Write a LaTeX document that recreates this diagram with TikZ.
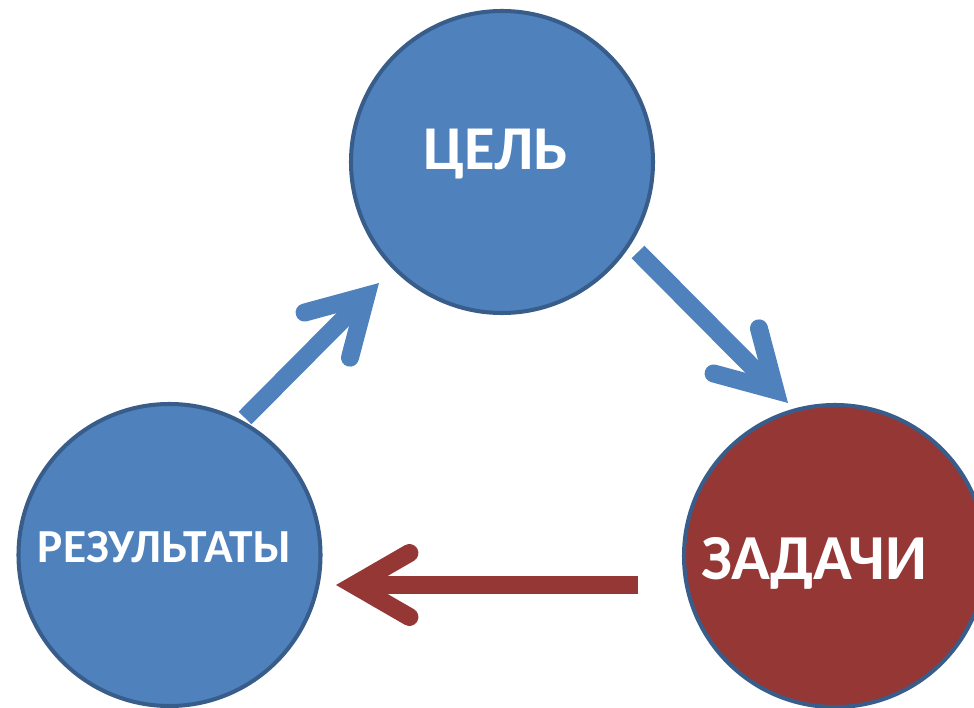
\documentclass[tikz,border=0pt]{standalone}
\usepackage{fontspec}
\setmainfont{Carlito}
\usetikzlibrary{calc}
\definecolor{fillblue}{HTML}{4F81BD}
\definecolor{rimblue}{HTML}{385D8A}
\definecolor{taskred}{HTML}{953735}
\tikzset{
    ring/.style = {circle, draw=rimblue, line width=2.3pt, minimum size=6.04cm, inner sep=0pt},
    word/.style = {text=white, anchor=base, inner sep=0pt},
    flow/.style = {line width=0.36cm},
    barb/.style = {line width=0.36cm, line cap=round, line join=miter}
}
% thick arrow: #1 tail, #2 tip, #3 colour
\newcommand{\bigarrow}[3]{%
  \coordinate (#2-v) at ($(#2)!0.36cm!(#1)$);
  \path[flow] (#1) edge[#3] (#2-v);
  \draw[barb, #3] ($(#2-v)!1.28cm!30:(#1)$) -- (#2-v) -- ($(#2-v)!1.28cm!-30:(#1)$);
}

\begin{document}
\begin{tikzpicture}
  \useasboundingbox (0,0) rectangle (19.48,14.14);
  \clip (0,0) rectangle (19.48,14.14);

  % circles
  \node[ring, fill=fillblue] (goal) at (10.04,10.90) {};
  \node[ring, fill=fillblue] (result) at (3.39,3.04) {};
  \node[ring, fill=taskred] (task) at (16.70,3.02) {};

  \node[word, font=\bfseries\fontsize{35.5pt}{40pt}\selectfont] (goal-txt) at (9.91,10.74) {ЦЕЛЬ};
  \node[word, font=\bfseries\fontsize{27pt}{30pt}\selectfont] (result-txt) at (3.29,2.88) {РЕЗУЛЬТАТЫ};
  \node[word, font=\bfseries\fontsize{36.5pt}{44pt}\selectfont] (task-txt) at (16.28,2.54) {ЗАДАЧИ};

  % arrows
  \coordinate (up-a) at (4.90,5.78);
  \coordinate (up-b) at (7.58,8.48);
  \coordinate (down-a) at (12.76,9.10);
  \coordinate (down-b) at (15.76,6.08);
  \coordinate (back-a) at (12.76,2.44);
  \coordinate (back-b) at (6.72,2.44);

  \bigarrow{up-a}{up-b}{fillblue}
  \bigarrow{down-a}{down-b}{fillblue}
  \bigarrow{back-a}{back-b}{taskred}
\end{tikzpicture}
\end{document}
